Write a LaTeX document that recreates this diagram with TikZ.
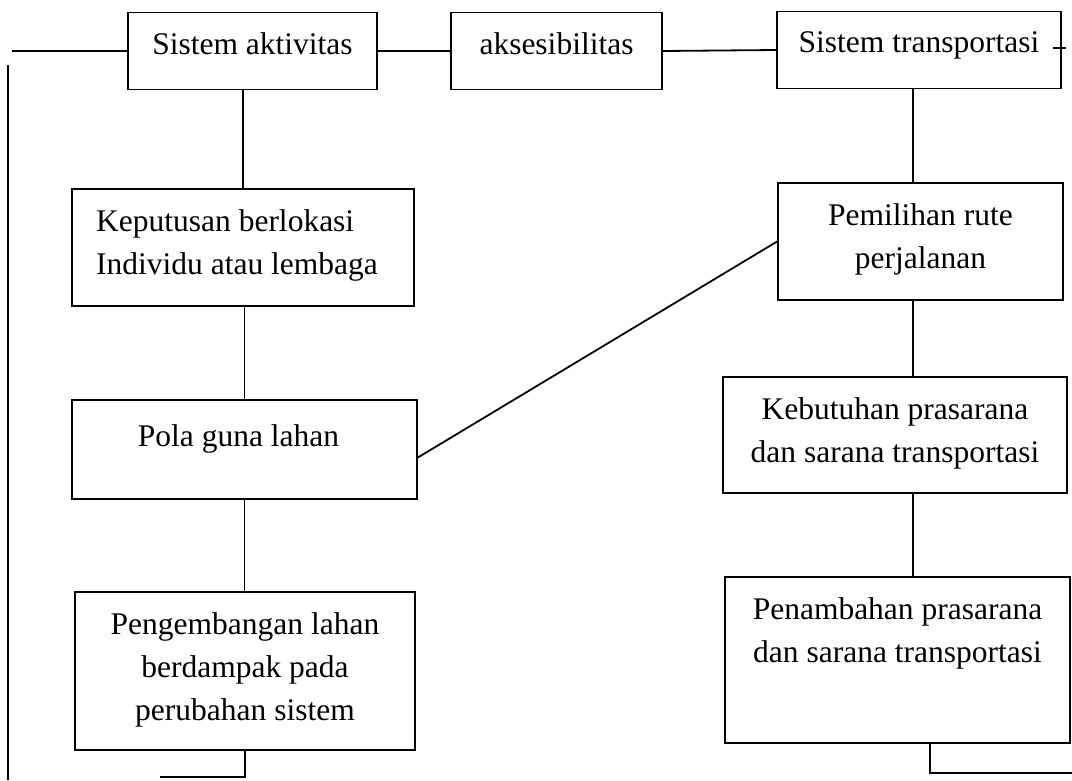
\documentclass[tikz,border=0pt]{standalone}
\usepackage{fontspec}
\setmainfont{Liberation Serif}
\usepackage{tikz}
\usetikzlibrary{positioning, calc}

\begin{document}
\begin{tikzpicture}[x=1pt, y=-1pt,
    box/.style={draw, line width=1.8pt, rectangle, inner sep=0pt},
    lbl/.style={anchor=north, inner sep=0pt, yshift=-21pt, align=center,
                font=\fontsize{31.5}{43}\selectfont},
    link/.style={line width=1.8pt}]

\useasboundingbox (0,0) rectangle (1072,780);

%---------------- Top row ----------------%
\node[box, minimum width=249, minimum height=77,
      label={[lbl]north:{Sistem aktivitas}}] (akt) at (252.5,51) {};
\node[box, minimum width=211, minimum height=77,
      label={[lbl]north:{aksesibilitas}}] (aks) at (556.5,51) {};
\node[box, minimum width=284, minimum height=77,
      label={[lbl]north:{Sistem transportasi}}] (trans) at (919,50) {};

%---------------- Left column ----------------%
\node[box, minimum width=342, minimum height=117,
      label={[lbl, align=left, xshift=-6pt]north:{Keputusan berlokasi\\Individu atau lembaga}}] (kep) at (243,247.5) {};
\node[box, minimum width=345, minimum height=99,
      label={[lbl, xshift=-6pt, yshift=-4pt]north:{Pola guna lahan}}] (pola) at (244.5,449.5) {};
\node[box, minimum width=340, minimum height=158,
      label={[lbl]north:{Pengembangan lahan\\berdampak pada\\perubahan sistem}}] (peng) at (245,671) {};

%---------------- Right column ----------------%
\node[box, minimum width=285, minimum height=117,
      label={[lbl]north:{Pemilihan rute\\perjalanan}}] (pem) at (920.5,241.5) {};
\node[box, minimum width=344, minimum height=116,
      label={[lbl]north:{Kebutuhan prasarana\\dan sarana transportasi}}] (keb) at (895,435) {};
\node[box, minimum width=345, minimum height=166,
      label={[lbl]north:{Penambahan prasarana\\dan sarana transportasi}}] (pen) at (897.5,660) {};

%---------------- Free ends ----------------%
\coordinate (lin) at (12,51);
\coordinate (ltop) at (8,65);
\coordinate (lbot) at (8,780);
\coordinate (pengL) at (160,777);
\coordinate (rstub) at (1066,48);
\coordinate (penR) at (1072,773);

%---------------- Links ----------------%
\draw[link] (lin) -- (akt.west);
\draw[link] (akt.east) -- (aks.west);
\draw[link] (aks.east) -- (trans.east -| trans.west);
\draw[link] ([xshift=-9pt]trans.east |- rstub) -- (rstub);
\draw[link] (ltop) -- (lbot);

\draw[link] (kep.north) -- (kep.north |- akt.south);
\draw[link] (kep.south -| pola.north) -- (pola.north);
\draw[link] (pola.south) -- (pola.south |- peng.north);
\draw[link] (peng.south) -- (peng.south |- pengL) -- (pengL);

\draw[link] (pem.north -| 913,0) -- (913,0 |- trans.south);
\draw[link] (913,0 |- pem.south) -- (913,0 |- keb.north);
\draw[link] (913,0 |- keb.south) -- (913,0 |- pen.north);
\draw[link] (930,0 |- pen.south) -- (930,0 |- penR) -- (penR);

\draw[link] ([yshift=-8pt]pola.east) -- (pem.west);

\end{tikzpicture}
\end{document}
